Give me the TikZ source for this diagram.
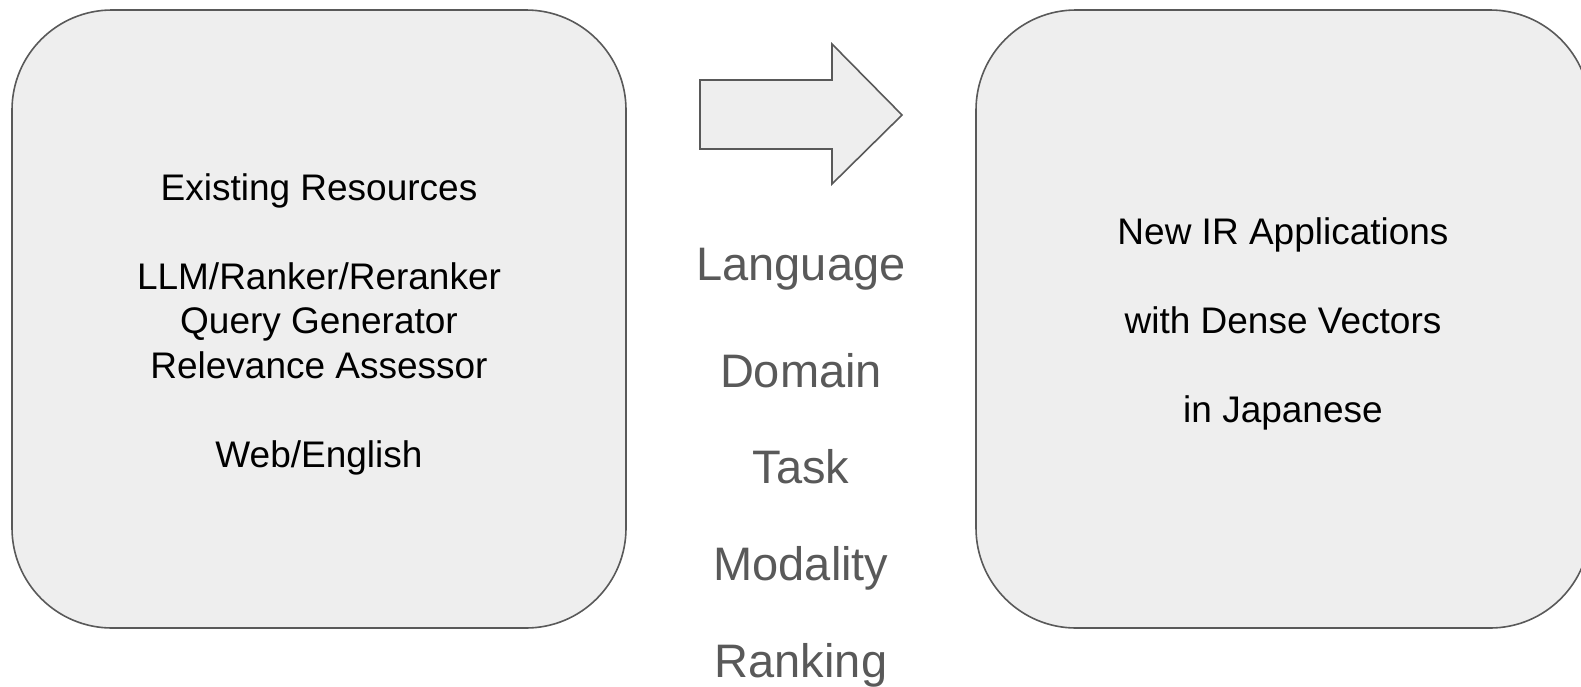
\documentclass[tikz,border=0pt]{standalone}
\usepackage{fontspec}
\setmainfont{Liberation Sans}
\definecolor{panelgray}{HTML}{EEEEEE}
\definecolor{edgegray}{HTML}{595959}
\newcommand{\panelFont}[0]{\fontsize{37}{44.5}\selectfont}
\newcommand{\axisFont}[0]{\fontsize{47}{56}\selectfont}

\begin{document}
\begin{tikzpicture}[x=1pt, y=-1pt]
  \tikzset{panel/.style={draw=edgegray, fill=panelgray, line width=1.6pt,
                         rounded corners=100pt, minimum width=614pt,
                         minimum height=618pt, inner sep=0pt},
           panel text/.style={align=center, font=\panelFont, yshift=-5pt},
           axis label/.style={anchor=base, text=edgegray, font=\axisFont}}
  \useasboundingbox (0,0) rectangle (1581,686);
  \clip (0,0) rectangle (1581,686);
  \node[panel] (source) at (319,319) {};
  \node[panel] (target) at (1283,319) {};
  \node[panel text] (sourcetext) at (source.center)
    {Existing Resources\\ \\
     LLM/Ranker/Reranker\\
     Query Generator\\
     Relevance Assessor\\ \\
     Web/English};
  \node[panel text] (targettext) at (target.center)
    {New IR Applications\\ \\
     with Dense Vectors\\ \\
     in Japanese};
  \draw[draw=edgegray, fill=panelgray, line width=1.6pt]
    (700,80) -- (832,80) -- (832,44) -- (902,115) -- (832,184)
    -- (832,149) -- (700,149) -- cycle;
  \node[axis label] (language) at (801,280) {Language};
  \node[axis label] (domain) at (801,387) {Domain};
  \node[axis label] (task) at (801,483) {Task};
  \node[axis label] (modality) at (801,580) {Modality};
  \node[axis label] (ranking) at (801,677) {Ranking};
\end{tikzpicture}
\end{document}
